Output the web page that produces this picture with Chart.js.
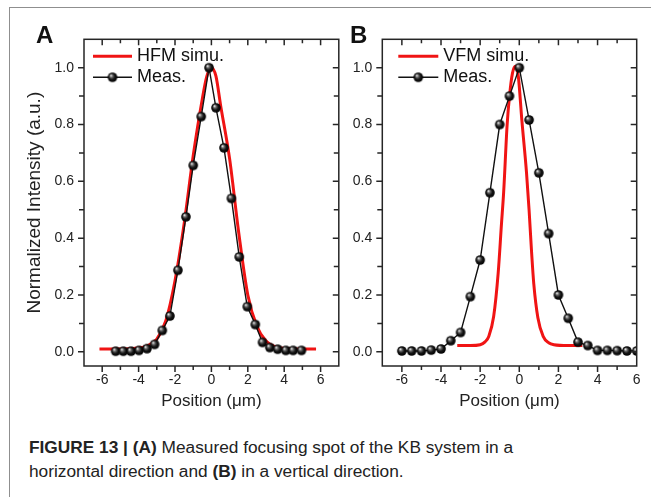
<!DOCTYPE html>
<html><head><meta charset="utf-8">
<script src="https://cdn.jsdelivr.net/npm/chart.js@4.4.1/dist/chart.umd.min.js"></script>
<style>
html,body{margin:0;padding:0;background:#fff;width:651px;height:497px;overflow:hidden;font-family:"Liberation Sans",Arial,sans-serif;}
#frame{position:absolute;left:9px;top:7px;width:660px;height:510px;border-top:1.5px solid #8f8f8f;border-left:1.5px solid #8f8f8f;}
#cA{position:absolute;left:10px;top:8px;}
#cB{position:absolute;left:345px;top:8px;}
.lab{position:absolute;font-weight:bold;font-size:24px;line-height:24px;color:#111;}
#cap{position:absolute;left:29px;top:435px;font-size:17.3px;line-height:24px;color:#222;white-space:nowrap;}
</style></head><body>
<div id="frame"></div>
<canvas id="cA" width="335" height="410"></canvas>
<canvas id="cB" width="306" height="410"></canvas>
<div class="lab" style="left:36px;top:23px">A</div>
<div class="lab" style="left:350px;top:23px">B</div>
<div id="cap"><b>FIGURE 13 | (A)</b> Measured focusing spot of the KB system in a<br>horizontal direction and <b>(B)</b> in a vertical direction.</div>
<script>
// ---- tick labels ----
const xTickValues = [-6, -4, -2, 0, 2, 4, 6];
const xTickLabels = ['-6', '-4', '-2', '0', '2', '4', '6'];
const xMinorTicks = [-5, -3, -1, 1, 3, 5];
const yTickValues = [0, 0.2, 0.4, 0.6, 0.8, 1.0];
const yTickLabels = ['0.0', '0.2', '0.4', '0.6', '0.8', '1.0'];
const yMinorTicks = [0.1, 0.3, 0.5, 0.7, 0.9];

// ---- panel A ----
const hfmSimX = [-6.15, -5, -4, -3.5, -3, -2.5, -2, -1.5, -1, -0.5, -0.25, 0, 0.25, 0.5, 1, 1.5, 2, 2.5, 3, 3.5, 4, 5, 5.75];
const hfmSimY = [0.01, 0.01, 0.013, 0.022, 0.045, 0.11, 0.25, 0.45, 0.69, 0.89, 0.97, 1.0, 0.97, 0.87, 0.68, 0.42, 0.20, 0.09, 0.038, 0.018, 0.012, 0.01, 0.01];
const measAX = [-5.26, -4.84, -4.42, -3.98, -3.54, -3.12, -2.70, -2.28, -1.84, -1.40, -1.00, -0.56, -0.13, 0.25, 0.69, 1.10, 1.53, 1.97, 2.41, 2.81, 3.21, 3.64, 4.09, 4.49, 4.95];
const measAY = [0.002, 0.002, 0.002, 0.005, 0.011, 0.026, 0.075, 0.126, 0.287, 0.475, 0.656, 0.828, 1.0, 0.859, 0.718, 0.54, 0.334, 0.159, 0.096, 0.033, 0.015, 0.009, 0.005, 0.005, 0.005];

// ---- panel B ----
const vfmSimX = [-3.17, -2.5, -2.0, -1.75, -1.56, -1.31, -1.08, -0.91, -0.8, -0.62, -0.5, -0.35, -0.2, -0.05, 0.13, 0.37, 0.5, 0.62, 0.74, 0.95, 1.22, 1.5, 1.77, 2.5, 3.22];
const vfmSimY = [0.022, 0.022, 0.025, 0.035, 0.054, 0.124, 0.276, 0.45, 0.56, 0.80, 0.90, 0.98, 1.005, 0.97, 0.816, 0.63, 0.50, 0.36, 0.24, 0.12, 0.054, 0.032, 0.025, 0.022, 0.022];
const measBX = [-6, -5.5, -5, -4.5, -4, -3.5, -3, -2.5, -2, -1.5, -1, -0.5, 0, 0.5, 1, 1.5, 2, 2.5, 3, 3.5, 4, 4.5, 5, 5.5, 6];
const measBY = [0.003, 0.003, 0.003, 0.006, 0.01, 0.039, 0.068, 0.194, 0.323, 0.56, 0.80, 0.90, 1.0, 0.816, 0.63, 0.416, 0.2, 0.118, 0.034, 0.022, 0.005, 0.005, 0.004, 0.003, 0.003];

const FONT = '"Liberation Sans", Arial, sans-serif';
const pts = (xs, ys) => xs.map((x, i) => ({x: x, y: ys[i]}));

function makeBall(r) {
  const c = document.createElement('canvas');
  const s = Math.ceil(r * 2) + 2; c.width = c.height = s;
  const g = c.getContext('2d'); const cx = s / 2, cy = s / 2;
  const grad = g.createRadialGradient(cx - r * 0.35, cy - r * 0.4, r * 0.05, cx, cy, r);
  grad.addColorStop(0, '#f2f2f2'); grad.addColorStop(0.28, '#6a6a6a');
  grad.addColorStop(0.6, '#151515'); grad.addColorStop(1, '#000');
  g.fillStyle = grad; g.beginPath(); g.arc(cx, cy, r, 0, Math.PI * 2); g.fill();
  return c;
}
const ball = makeBall(4.8);

const framePlugin = {
  id: 'frameTicks',
  afterDatasetsDraw(chart, args, opts) {
    const {ctx, chartArea: a, scales: {x, y}} = chart;
    ctx.save();
    ctx.strokeStyle = '#262626';
    ctx.lineWidth = 1.5;
    ctx.strokeRect(a.left, a.top, a.right - a.left, a.bottom - a.top);
    ctx.beginPath();
    const xt = xTickValues.map(v => [v, 6]).concat(xMinorTicks.map(v => [v, 4]));
    xt.forEach(([v, len]) => {
      const p = x.getPixelForValue(v);
      if (p < a.left + 1 || p > a.right - 1) return;
      ctx.moveTo(p, a.bottom); ctx.lineTo(p, a.bottom + len);
      ctx.moveTo(p, a.top); ctx.lineTo(p, a.top + len);
    });
    const yt = yTickValues.map(v => [v, 6]).concat(yMinorTicks.map(v => [v, 5]));
    yt.forEach(([v, len]) => {
      const p = y.getPixelForValue(v);
      ctx.moveTo(a.left, p); ctx.lineTo(a.left - len, p);
      ctx.moveTo(a.right, p); ctx.lineTo(a.right - len, p);
    });
    ctx.stroke();
    // legend
    const L = opts.legend;
    const ds = chart.data.datasets;
    const x0 = a.left + L.x0, x1 = a.left + L.x1, tx = a.left + L.tx;
    const y1 = a.top + L.y1, y2 = a.top + L.y2;
    ctx.lineWidth = ds[0].borderWidth; ctx.strokeStyle = ds[0].borderColor;
    ctx.beginPath(); ctx.moveTo(x0, y1); ctx.lineTo(x1, y1); ctx.stroke();
    ctx.lineWidth = ds[1].borderWidth; ctx.strokeStyle = ds[1].borderColor;
    ctx.beginPath(); ctx.moveTo(x0, y2); ctx.lineTo(x1, y2); ctx.stroke();
    ctx.drawImage(ball, (x0 + x1) / 2 - ball.width / 2, y2 - ball.height / 2);
    ctx.fillStyle = '#111';
    ctx.font = '18px ' + FONT;
    ctx.textBaseline = 'middle'; ctx.textAlign = 'left';
    ctx.fillText(ds[0].label, tx, y1);
    ctx.fillText(ds[1].label, tx, y2);
    ctx.restore();
  }
};

function makeChart(id, simLabel, simX, simY, mX, mY, xMin, xMax, yAxisW, padRight, showYTitle, legend) {
  return new Chart(document.getElementById(id), {
    type: 'line',
    data: {
      datasets: [
        {label: simLabel, data: pts(simX, simY), borderColor: '#f01414', borderWidth: 3,
         pointRadius: 0, cubicInterpolationMode: 'monotone', fill: false, order: 2},
        {label: 'Meas.', data: pts(mX, mY), borderColor: '#111111', borderWidth: 1.4,
         pointStyle: ball, pointRadius: 4.8, tension: 0, fill: false, order: 1}
      ]
    },
    options: {
      responsive: false, animation: false, devicePixelRatio: 1, events: [],
      layout: {padding: {left: 0, right: padRight, top: 31.3, bottom: 0}},
      plugins: {legend: {display: false}, tooltip: {enabled: false}, frameTicks: {legend: legend}},
      scales: {
        x: {
          type: 'linear', min: xMin, max: xMax,
          afterBuildTicks: s => { s.ticks = xTickValues.map(v => ({value: v})); },
          ticks: {callback: v => xTickLabels[xTickValues.indexOf(v)], font: {size: 14, family: FONT},
                  color: '#222', padding: 6, maxRotation: 0, autoSkip: false},
          grid: {display: false, drawTicks: false}, border: {display: false},
          title: {display: true, text: 'Position (\u03bcm)', color: '#222', font: {size: 17, family: FONT},
                  padding: {top: 0, bottom: 6}},
          afterFit: s => { s.height = 52; }
        },
        y: {
          min: -0.05, max: 1.1,
          afterBuildTicks: s => { s.ticks = yTickValues.map(v => ({value: v})); },
          ticks: {callback: v => yTickLabels[yTickValues.indexOf(v)], font: {size: 14, family: FONT},
                  color: '#222', padding: 10},
          grid: {display: false, drawTicks: false}, border: {display: false},
          title: {display: showYTitle, text: 'Normalized Intensity (a.u.)', color: '#222',
                  font: {size: 19, family: FONT}, padding: {top: 13, bottom: 0}},
          afterFit: s => { s.width = yAxisW; }
        }
      }
    },
    plugins: [framePlugin]
  });
}

makeChart('cA', 'HFM simu.', hfmSimX, hfmSimY, measAX, measAY, -7, 7, 74, 6, true,
          {x0: 9, x1: 48, tx: 53, y1: 17, y2: 38});
makeChart('cB', 'VFM simu.', vfmSimX, vfmSimY, measBX, measBY, -7, 6, 37.3, 14.3, false,
          {x0: 16, x1: 56, tx: 61, y1: 17, y2: 38});
</script>
</body></html>
